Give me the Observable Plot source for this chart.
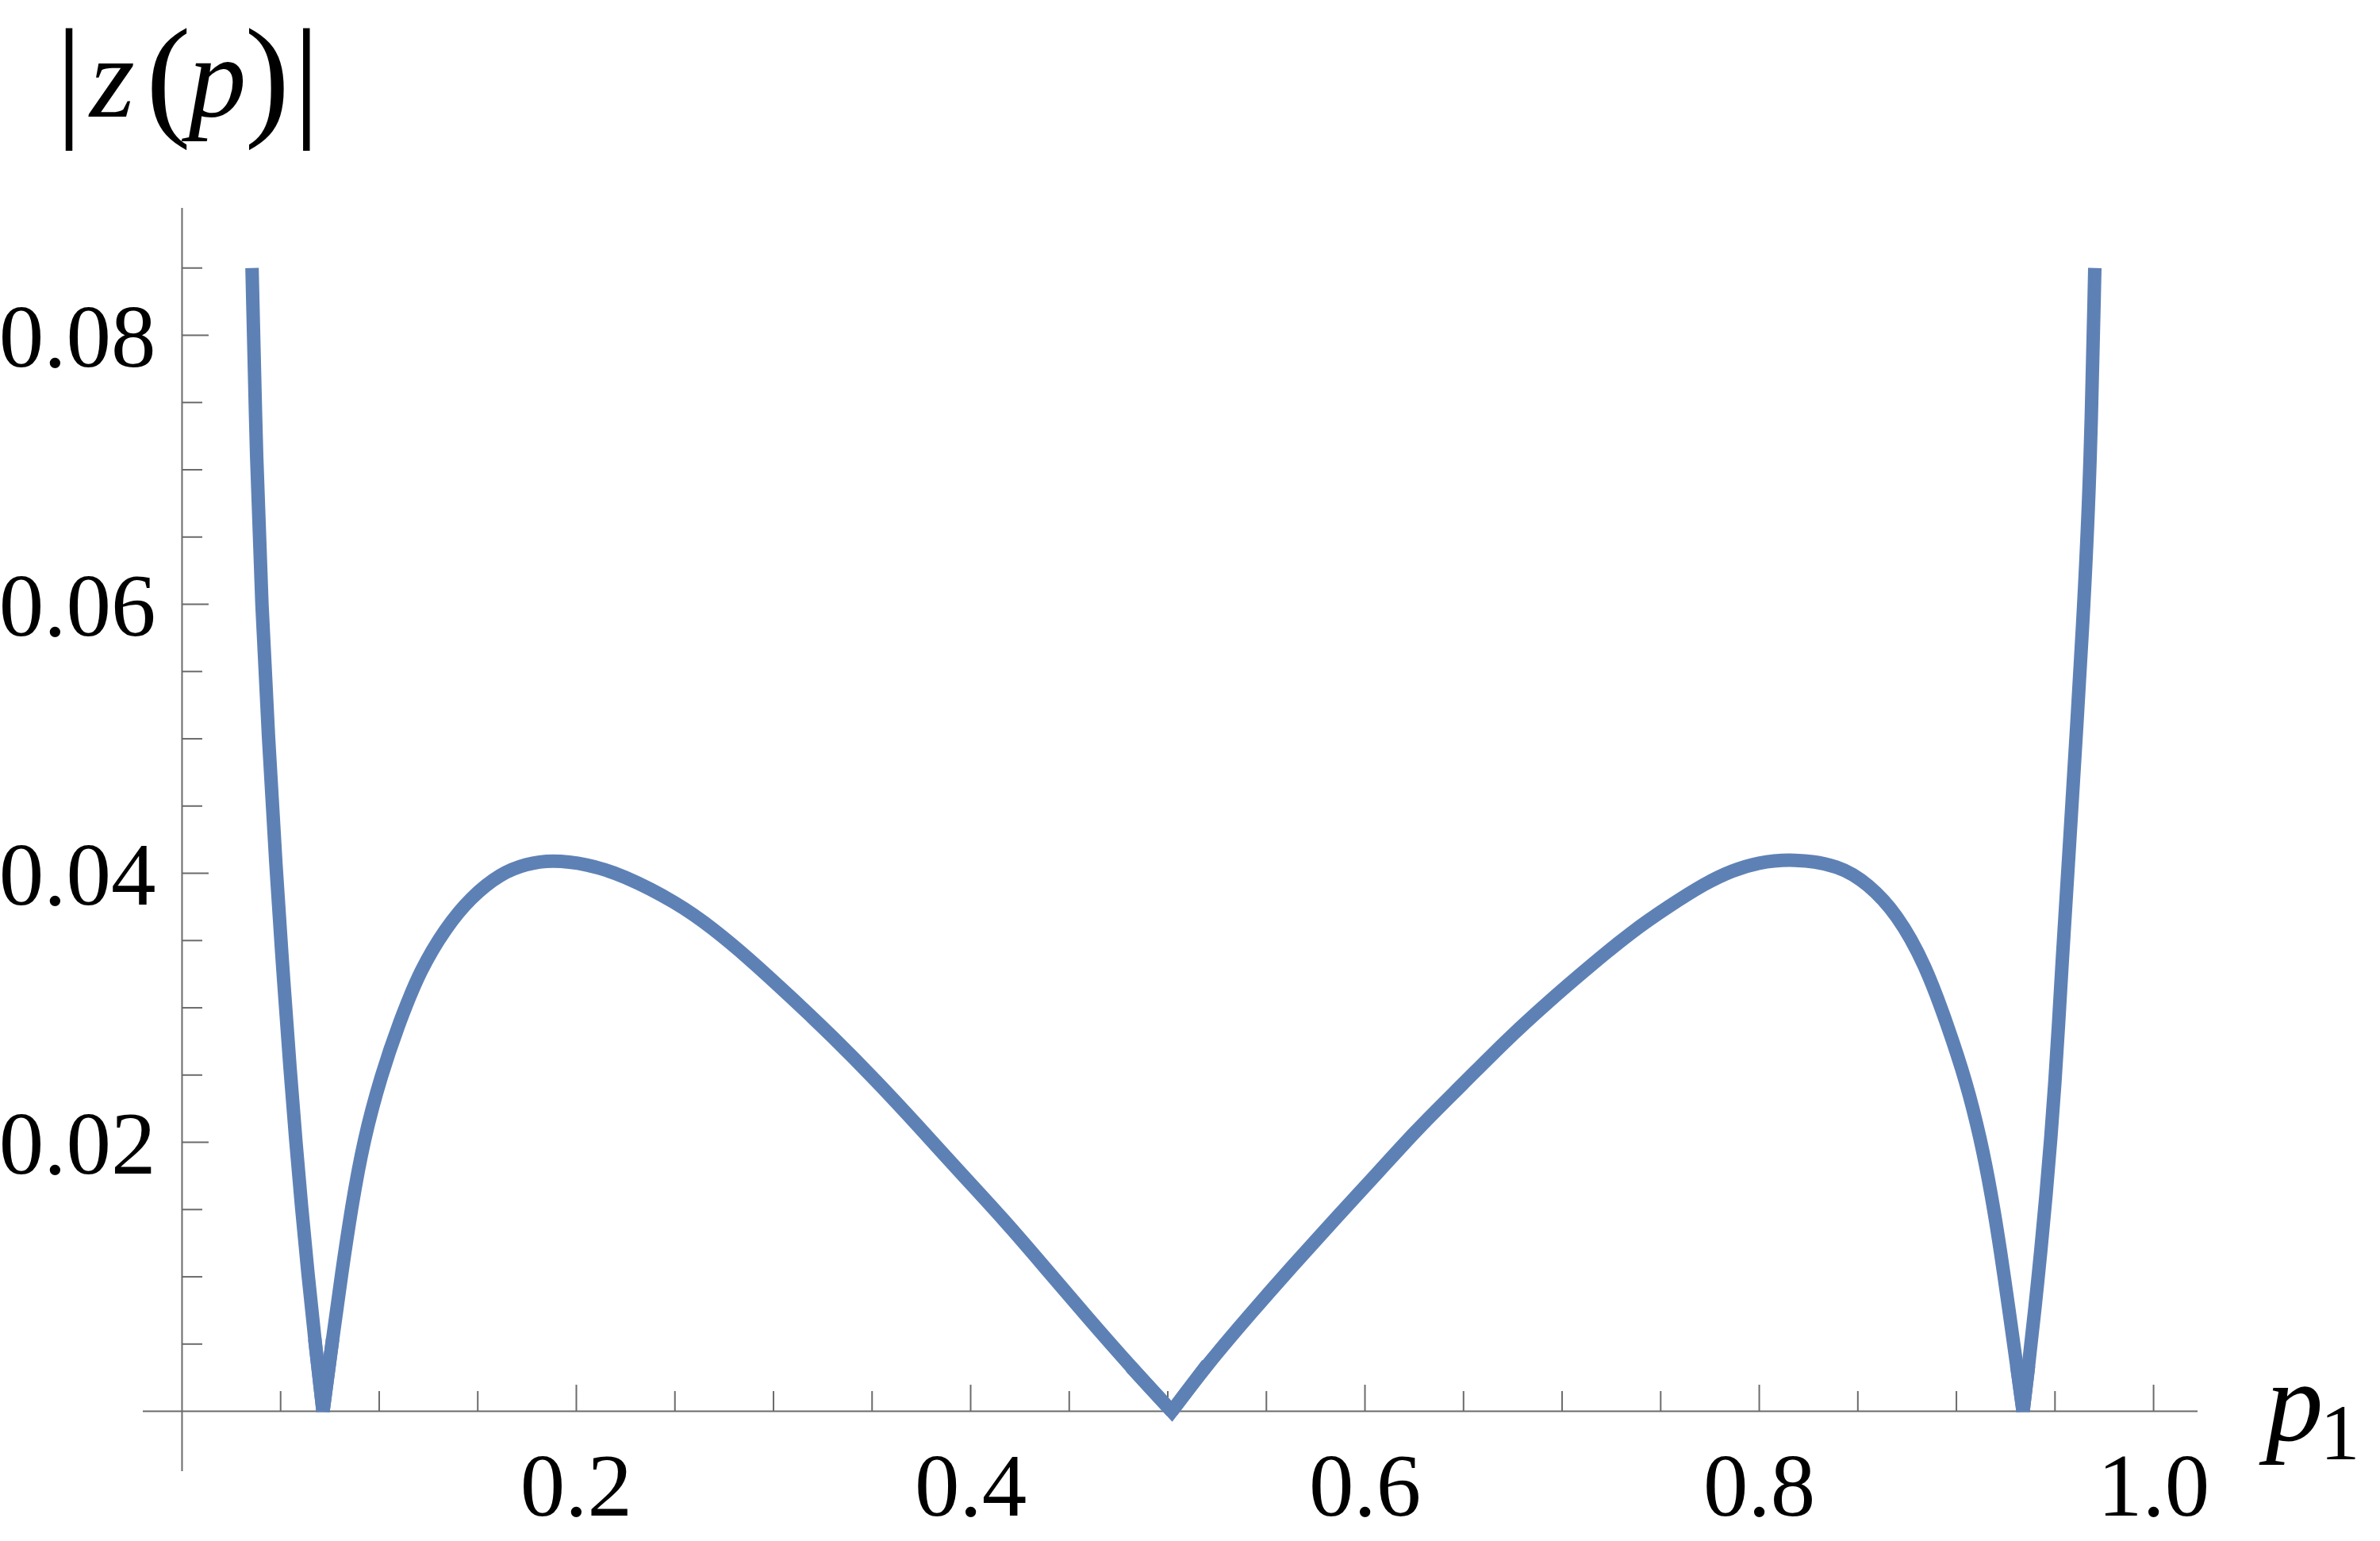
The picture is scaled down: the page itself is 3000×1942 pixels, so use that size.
<!DOCTYPE html>
<html>
<head>
<meta charset="utf-8">
<script src="https://cdn.jsdelivr.net/npm/d3@7"></script>
<script src="https://cdn.jsdelivr.net/npm/@observablehq/plot@0.6"></script>
<style>
  html, body { margin: 0; padding: 0; background: #ffffff; overflow: hidden; }
  #chart svg { display: block; }
</style>
</head>
<body>
<div id="chart"></div>
<script>
// ---- data ----
const pVals = [
  0.0355, 0.0378, 0.0404, 0.0438, 0.0477, 0.0511, 0.0550, 0.0577, 0.0606, 0.0638, 0.0673, 0.0715,
  0.0764, 0.0810, 0.0860, 0.0920, 0.1010, 0.1104, 0.1208, 0.1335, 0.1463, 0.1617, 0.1745, 0.1874, 0.2053, 0.2233,
  0.2513, 0.2693, 0.2873, 0.3088, 0.3304, 0.3519, 0.3735, 0.3950, 0.4166, 0.4382, 0.4597, 0.4813, 0.5020,
  0.5201, 0.5416, 0.5632, 0.5848, 0.6063, 0.6279, 0.6495, 0.6710, 0.6926, 0.7141, 0.7357, 0.7536, 0.7730,
  0.7862, 0.7990, 0.8171, 0.8407, 0.8553, 0.8698, 0.8843, 0.8955, 0.9050, 0.9122, 0.9178, 0.9224, 0.9266, 0.9306, 0.9338,
  0.9366, 0.9398, 0.9428, 0.9455, 0.9479, 0.9500, 0.9518, 0.9534, 0.9566, 0.9648, 0.9680, 0.9702
];
const zVals = [
  0.0850, 0.0703, 0.0599, 0.0501, 0.0403, 0.0329, 0.0250, 0.0201, 0.0152, 0.0103, 0.0054, 0.0000,
  0.0054, 0.0103, 0.0152, 0.0201, 0.0250, 0.0290, 0.0328, 0.0359, 0.0382, 0.0400, 0.0407, 0.0410, 0.0407, 0.0399,
  0.0378, 0.0359, 0.0337, 0.0308, 0.0278, 0.0246, 0.0212, 0.0177, 0.0143, 0.0106, 0.0069, 0.0033, 0.0000,
  0.0035, 0.0072, 0.0108, 0.0143, 0.0177, 0.0212, 0.0243, 0.0275, 0.0304, 0.0331, 0.0357, 0.0375, 0.0393,
  0.0402, 0.0408, 0.0411, 0.0406, 0.0392, 0.0370, 0.0332, 0.0287, 0.0245, 0.0203, 0.0161, 0.0119, 0.0076, 0.0034, 0.0000,
  0.0034, 0.0076, 0.0119, 0.0161, 0.0203, 0.0245, 0.0287, 0.0329, 0.0403, 0.0599, 0.0703, 0.0850
];

const xMajorTicks = [0.2, 0.4, 0.6, 0.8, 1.0];
const xMinorTicks = [0.05, 0.1, 0.15, 0.25, 0.3, 0.35, 0.45, 0.5, 0.55, 0.65, 0.7, 0.75, 0.85, 0.9, 0.95];
const xTickLabels = ["0.2", "0.4", "0.6", "0.8", "1.0"];

const yMajorTicks = [0.02, 0.04, 0.06, 0.08];
const yMinorTicks = [0.005, 0.01, 0.015, 0.025, 0.03, 0.035, 0.045, 0.05, 0.055, 0.065, 0.07, 0.075, 0.085];
const yTickLabels = ["0.02", "0.04", "0.06", "0.08"];

const xDomain = [-0.0197, 1.0225];
const yDomain = [-0.00448, 0.08944];

// ---- build ----
// split the curve into smooth pieces between the zeros (cusps), the zero point shared by both pieces
const pieces = [];
let seg = 0;
pVals.forEach((p, i) => {
  pieces.push({p, z: zVals[i], seg});
  if (zVals[i] === 0 && i > 0 && i < pVals.length - 1) {
    seg += 1;
    pieces.push({p, z: zVals[i], seg});
  }
});
// the three points around each cusp, drawn straight so the tip is a sharp join
const cusps = [];
zVals.forEach((z, i) => {
  if (z === 0 && i > 0 && i < zVals.length - 1) {
    for (const j of [i - 1, i, i + 1]) cusps.push({p: pVals[j], z: zVals[j], c: i});
  }
});

const AXIS = "#6b6b6b";
const LINE = "#5E81B5";
const SW = 17;
const SERIF = "'Liberation Serif', 'Times New Roman', serif";

const plot = Plot.plot({
  width: 3000,
  height: 1942,
  marginLeft: 180,
  marginRight: 230,
  marginTop: 262,
  marginBottom: 88,
  x: {domain: xDomain, axis: null},
  y: {domain: yDomain, axis: null},
  style: {background: "white", fontFamily: SERIF, overflow: "visible"},
  marks: [
    Plot.ruleY([0], {stroke: AXIS, strokeWidth: 2}),
    Plot.ruleX([0], {stroke: AXIS, strokeWidth: 2}),
    Plot.ruleX(xMinorTicks, {x: d => d, y1: 0, y2: 0, insetTop: -25, stroke: AXIS, strokeWidth: 2}),
    Plot.ruleX(xMajorTicks, {x: d => d, y1: 0, y2: 0, insetTop: -33, stroke: AXIS, strokeWidth: 2}),
    Plot.ruleY(yMinorTicks, {y: d => d, x1: 0, x2: 0, insetRight: -26, stroke: AXIS, strokeWidth: 2}),
    Plot.ruleY(yMajorTicks, {y: d => d, x1: 0, x2: 0, insetRight: -34, stroke: AXIS, strokeWidth: 2}),
    Plot.line(pieces, {
      x: "p", y: "z", z: "seg", stroke: LINE, strokeWidth: SW,
      curve: "basis", strokeLinecap: "butt", strokeLinejoin: "round"
    }),
    Plot.line(cusps, {
      x: "p", y: "z", z: "c", stroke: LINE, strokeWidth: SW,
      curve: "linear", strokeLinejoin: "miter", strokeLinecap: "butt", strokeMiterlimit: 4
    }),
    Plot.text(xMajorTicks, {
      x: d => d, y: 0, text: (d, i) => xTickLabels[i],
      dy: 95, fontSize: 113, fill: "black", fontFamily: SERIF
    }),
    Plot.text(yMajorTicks, {
      x: 0, y: d => d, text: (d, i) => yTickLabels[i],
      textAnchor: "end", dx: -33, dy: 3, fontSize: 113, fill: "black", fontFamily: SERIF
    })
  ]
});

// ---- math-style axis labels (one text element each) ----
const svg = d3.select(plot);

const yLab = svg.append("text")
  .attr("x", 70).attr("y", 153)
  .attr("font-family", SERIF)
  .attr("fill", "black")
  .attr("text-anchor", "start");
yLab.append("tspan").attr("font-size", 170).text("|");
yLab.append("tspan").attr("dx", 9).attr("dy", -6).attr("font-size", 146).attr("font-style", "italic").text("z");
yLab.append("tspan").attr("dx", 14).attr("dy", 6).attr("font-size", 170).text("(");
yLab.append("tspan").attr("dx", -3).attr("dy", -6).attr("font-size", 146).attr("font-style", "italic").text("p");
yLab.append("tspan").attr("dx", -2).attr("dy", 6).attr("font-size", 170).text(")");
yLab.append("tspan").attr("dx", 4).attr("font-size", 170).text("|");

const xLab = svg.append("text")
  .attr("x", 2856).attr("y", 1815)
  .attr("font-family", SERIF)
  .attr("fill", "black")
  .attr("text-anchor", "start");
xLab.append("tspan").attr("font-size", 145).attr("font-style", "italic").text("p");
xLab.append("tspan").attr("dx", -4).attr("dy", 24).attr("font-size", 100).text("1");

document.getElementById("chart").appendChild(plot);
</script>
</body>
</html>
